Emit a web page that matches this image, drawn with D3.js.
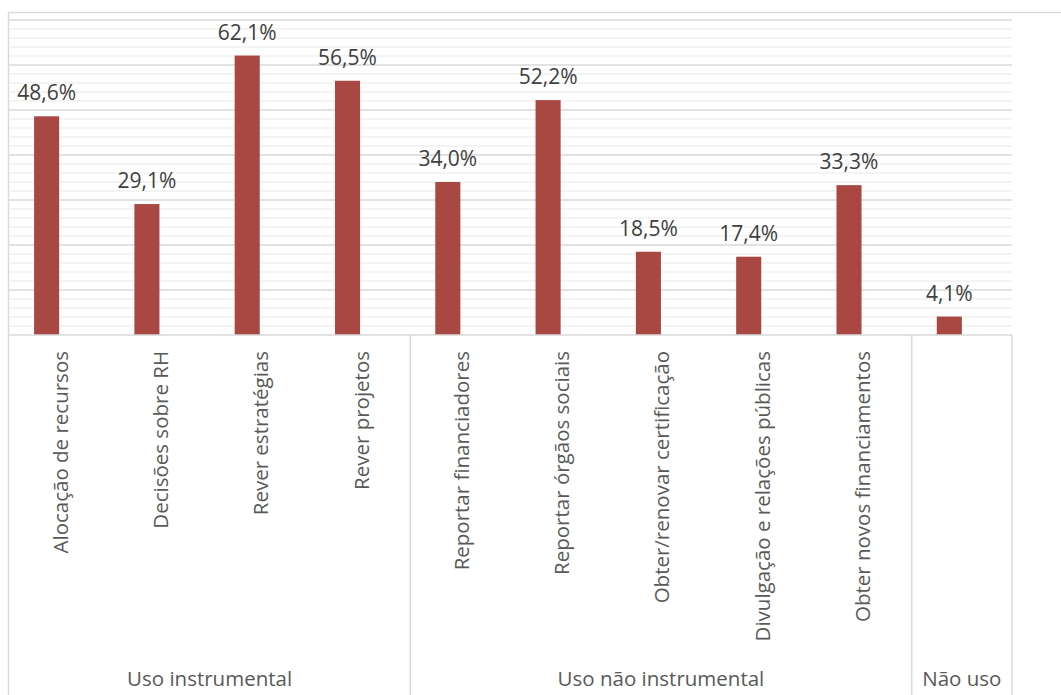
<!DOCTYPE html>
<html>
<head>
<meta charset="utf-8">
<script src="https://cdn.jsdelivr.net/npm/d3@7"></script>
<style>
  body { margin: 0; background: #fff; }
  svg text { font-family: "Open Sans", "Liberation Sans", Arial, sans-serif; }
</style>
</head>
<body>
<svg id="chart"></svg>
<script>
// data
const categories = [
  "Alocação de recursos", "Decisões sobre RH", "Rever estratégias", "Rever projetos",
  "Reportar financiadores", "Reportar órgãos sociais", "Obter/renovar certificação",
  "Divulgação e relações públicas", "Obter novos financiamentos", "Não uso"
];
const values = [48.6, 29.1, 62.1, 56.5, 34.0, 52.2, 18.5, 17.4, 33.3, 4.1];
const groups = [
  { name: "Uso instrumental", first: 0, last: 3 },
  { name: "Uso não instrumental", first: 4, last: 8 },
  { name: "Não uso", first: 9, last: 9 }
];
const majorTicks = [10, 20, 30, 40, 50, 60, 70];
const minorTicks = d3.range(2, 70, 2).filter(v => v % 10 !== 0);

const W = 1061, H = 695;
const plot = { left: 9, right: 1012, top: 20, bottom: 335 };

const svg = d3.select("#chart").attr("width", W).attr("height", H);

// chart frame
svg.append("rect")
  .attr("x", 8.5).attr("y", 12.5)
  .attr("width", W + 20).attr("height", H + 20)
  .attr("fill", "none").attr("stroke", "#d9d9d9").attr("stroke-width", 1.5);

const x = d3.scaleBand().domain(categories).range([plot.left, plot.right]).padding(0);
// two slots per category, the bar sits in the first one
const xSub = d3.scaleBand().domain(["serie", "vazio"]).range([0, x.bandwidth()])
  .paddingInner(0).paddingOuter(1);
const y = d3.scaleLinear().domain([0, 70]).range([plot.bottom, plot.top]);

// minor gridlines
svg.append("g").selectAll("line")
  .data(minorTicks).enter().append("line")
  .attr("x1", plot.left).attr("x2", plot.right)
  .attr("y1", d => y(d)).attr("y2", d => y(d))
  .attr("stroke", "#f0f0f0").attr("stroke-width", 1.5);

// major gridlines
svg.append("g").selectAll("line")
  .data(majorTicks).enter().append("line")
  .attr("x1", plot.left).attr("x2", plot.right)
  .attr("y1", d => y(d)).attr("y2", d => y(d))
  .attr("stroke", "#d9d9d9").attr("stroke-width", 1.5);

// bars
svg.append("g").selectAll("rect")
  .data(values).enter().append("rect")
  .attr("x", (d, i) => x(categories[i]) + xSub("serie"))
  .attr("y", d => y(d))
  .attr("width", xSub.bandwidth())
  .attr("height", d => y(0) - y(d))
  .attr("fill", "#a94843");

// value labels
svg.append("g").selectAll("text")
  .data(values).enter().append("text")
  .attr("x", (d, i) => x(categories[i]) + xSub("serie") + xSub.bandwidth() / 2)
  .attr("y", d => y(d) - 16)
  .attr("text-anchor", "middle")
  .style("font-size", "21px")
  .style("fill", "#404040")
  .text(d => d.toFixed(1).replace(".", ",") + "%");

// category axis line
svg.append("line")
  .attr("x1", plot.left).attr("x2", plot.right)
  .attr("y1", plot.bottom).attr("y2", plot.bottom)
  .attr("stroke", "#d9d9d9").attr("stroke-width", 1.5);

// category labels, rotated
svg.append("g").selectAll("text")
  .data(categories).enter().append("text")
  .attr("transform", d => `translate(${x(d) + x.bandwidth() / 2 + 8.5},351) rotate(-90)`)
  .attr("text-anchor", "end")
  .style("font-size", "20.5px")
  .style("fill", "#595959")
  .text(d => d === "Não uso" ? "" : d);

// group dividers
const dividers = groups.map(g => x(categories[g.last]) + x.bandwidth());
svg.append("g").selectAll("line")
  .data(dividers).enter().append("line")
  .attr("x1", d => d).attr("x2", d => d)
  .attr("y1", plot.bottom).attr("y2", H)
  .attr("stroke", "#d9d9d9").attr("stroke-width", 1.5);

// group labels
svg.append("g").selectAll("text")
  .data(groups).enter().append("text")
  .attr("x", g => (x(categories[g.first]) + x(categories[g.last]) + x.bandwidth()) / 2)
  .attr("y", 686)
  .attr("text-anchor", "middle")
  .style("font-size", "20.5px")
  .style("fill", "#595959")
  .text(g => g.name);
</script>
</body>
</html>
